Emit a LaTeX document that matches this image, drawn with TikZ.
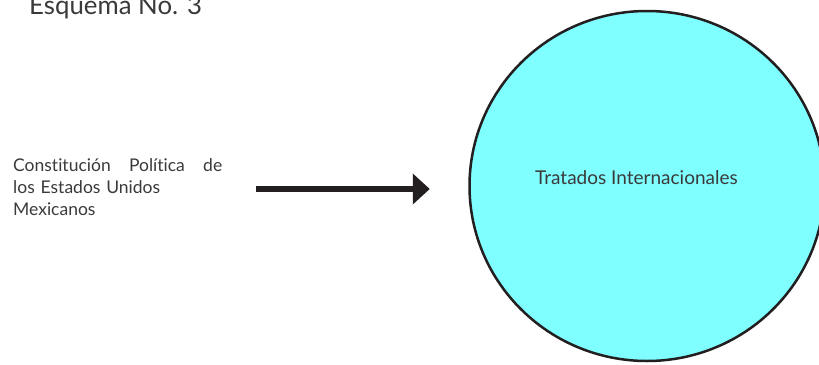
\documentclass[tikz,border=0pt]{standalone}
\usepackage{fontspec}
\setmainfont{Lato}[Ligatures = {NoCommon, NoContextual}]
\usetikzlibrary{arrows.meta,shapes.geometric}
\definecolor{tinta}{HTML}{3A3A3A}
\definecolor{negro}{HTML}{231F20}
\definecolor{celeste}{HTML}{7FFFFF}
\begin{document}
\begin{tikzpicture}[x=1pt,y=-1pt,
    texto/.style = {text = tinta, inner sep = 0pt},
    flecha/.style = {draw = negro, line width = 6pt, -{Triangle[length=17pt,width=30pt]}},
    circulo/.style = {ellipse, draw = negro, line width = 2.5pt, fill = celeste,
        minimum width = 355pt, minimum height = 350pt, inner sep = 0pt}]
    \useasboundingbox (0,0) rectangle (819,364);
    \node (ti) [circulo] at (647,186) {};
    \node (titulo) [texto, anchor = base west, font = \fontsize{25.8}{30}\selectfont] at (29,14) {Esquema No. 3};
    \node (cpeum) [texto, anchor = base west, text width = 209pt, align = left,
        font = \fontsize{17.5}{22}\selectfont] at (13,171)
        {Constitución\hfill Política\hfill de\\los Estados Unidos\\Mexicanos};
    \node (tratados) [texto, anchor = base, font = \fontsize{19}{23}\selectfont] at (636.5,184) {Tratados Internacionales};
    \coordinate (inicio) at (256,189);
    \draw [flecha, shorten >= 38.5pt] (inicio) -- (ti.west |- inicio);
\end{tikzpicture}
\end{document}
